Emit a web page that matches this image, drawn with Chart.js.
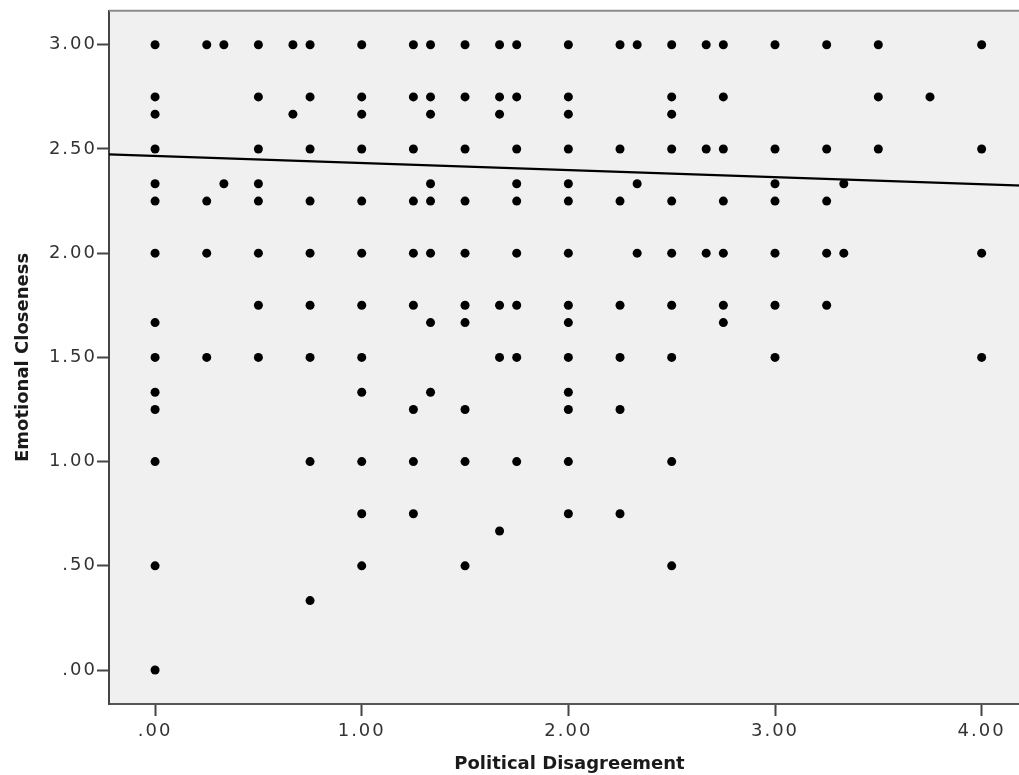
<!DOCTYPE html>
<html>
<head>
<meta charset="utf-8">
<script src="https://cdn.jsdelivr.net/npm/chart.js@4.4.1/dist/chart.umd.min.js"></script>
<style>
  html, body { margin: 0; padding: 0; background: #ffffff; overflow: hidden; width: 1019px; height: 775px; }
  #wrap { width: 1030px; height: 775px; }
</style>
</head>
<body>
<div id="wrap"><canvas id="c" width="1030" height="775"></canvas></div>
<script>
// ---- Data ----
const disagreement = [0, 0.25, 0.333, 0.5, 0.667, 0.75, 1, 1.25, 1.333, 1.5, 1.667, 1.75,
                      2, 2.25, 2.333, 2.5, 2.667, 2.75, 3, 3.25, 3.333, 3.5, 3.75, 4];
const closenessByDisagreement = [
  [3, 2.75, 2.667, 2.5, 2.333, 2.25, 2, 1.667, 1.5, 1.333, 1.25, 1, 0.5, 0],
  [3, 2.25, 2, 1.5],
  [3, 2.333],
  [3, 2.75, 2.5, 2.333, 2.25, 2, 1.75, 1.5],
  [3, 2.667],
  [3, 2.75, 2.5, 2.25, 2, 1.75, 1.5, 1, 0.333],
  [3, 2.75, 2.667, 2.5, 2.25, 2, 1.75, 1.5, 1.333, 1, 0.75, 0.5],
  [3, 2.75, 2.5, 2.25, 2, 1.75, 1.25, 1, 0.75],
  [3, 2.75, 2.667, 2.333, 2.25, 2, 1.667, 1.333],
  [3, 2.75, 2.5, 2.25, 2, 1.75, 1.667, 1.25, 1, 0.5],
  [3, 2.75, 2.667, 1.75, 1.5, 0.667],
  [3, 2.75, 2.5, 2.333, 2.25, 2, 1.75, 1.5, 1],
  [3, 2.75, 2.667, 2.5, 2.333, 2.25, 2, 1.75, 1.667, 1.5, 1.333, 1.25, 1, 0.75],
  [3, 2.5, 2.25, 1.75, 1.5, 1.25, 0.75],
  [3, 2.333, 2],
  [3, 2.75, 2.667, 2.5, 2.25, 2, 1.75, 1.5, 1, 0.5],
  [3, 2.5, 2],
  [3, 2.75, 2.5, 2.25, 2, 1.75, 1.667],
  [3, 2.5, 2.333, 2.25, 2, 1.75, 1.5],
  [3, 2.5, 2.25, 2, 1.75],
  [2.333, 2],
  [3, 2.75, 2.5],
  [2.75],
  [3, 2.5, 2, 1.5]
];
// Fit line endpoints (linear regression line across the plot)
const fitLineX = [-0.223, 4.234];
const fitLineY = [2.474, 2.323];
// Tick values and labels
const xTickValues = [0, 1, 2, 3, 4];
const xTickLabels = ['.00', '1.00', '2.00', '3.00', '4.00'];
const yTickValues = [0, 0.5, 1, 1.5, 2, 2.5, 3];
const yTickLabels = ['.00', '.50', '1.00', '1.50', '2.00', '2.50', '3.00'];
const xTitle = 'Political Disagreement';
const yTitle = 'Emotional Closeness';

// ---- Build data for the library ----
const scatterPoints = [];
disagreement.forEach((x, i) => {
  closenessByDisagreement[i].forEach(y => scatterPoints.push({ x: x, y: y }));
});
const fitPoints = fitLineX.map((x, i) => ({ x: x, y: fitLineY[i] }));

Chart.defaults.font.family = '"DejaVu Sans", sans-serif';
Chart.defaults.animation = false;

const plotBackground = {
  id: 'plotBackground',
  beforeDraw(chart) {
    const { ctx, chartArea: a } = chart;
    ctx.letterSpacing = '0px';
    ctx.save();
    ctx.fillStyle = '#f0f0f0';
    ctx.fillRect(a.left, a.top, a.right - a.left, a.bottom - a.top);
    ctx.restore();
  },
  afterDatasetsDraw(chart) {
    // tick labels (drawn after datasets, z=1) use a slightly wider spacing
    chart.ctx.letterSpacing = '2px';
  },
  afterDraw(chart) {
    const { ctx, chartArea: a } = chart;
    ctx.letterSpacing = '0px';
    ctx.save();
    ctx.strokeStyle = '#8c8c8c';
    ctx.lineWidth = 2;
    ctx.beginPath();
    ctx.moveTo(a.left, a.top);
    ctx.lineTo(a.right, a.top);
    ctx.stroke();
    ctx.restore();
  }
};

new Chart(document.getElementById('c'), {
  type: 'scatter',
  data: {
    datasets: [
      {
        label: 'Observed',
        data: scatterPoints,
        backgroundColor: '#000000',
        borderColor: '#000000',
        pointRadius: 4.5,
        pointHoverRadius: 4.5,
        borderWidth: 0,
        order: 2
      },
      {
        label: 'Fit',
        type: 'line',
        data: fitPoints,
        borderColor: '#000000',
        borderWidth: 2.2,
        pointRadius: 0,
        fill: false,
        order: 1
      }
    ]
  },
  options: {
    responsive: false,
    maintainAspectRatio: false,
    layout: { autoPadding: false, padding: { top: 10, right: 0, bottom: 0, left: 0 } },
    plugins: {
      legend: { display: false },
      tooltip: { enabled: false }
    },
    scales: {
      x: {
        type: 'linear',
        min: -0.223,
        max: 4.234,
        afterFit(s) { s.height = 71; },
        afterBuildTicks(s) { s.ticks = xTickValues.map(v => ({ value: v })); },
        ticks: {
          z: 1,
          padding: 5,
          color: '#333333',
          font: { size: 18 },
          maxRotation: 0,
          autoSkip: false,
          callback(v) { const i = xTickValues.indexOf(v); return i >= 0 ? xTickLabels[i] : ''; }
        },
        grid: { drawOnChartArea: false, drawTicks: true, tickLength: 12, tickWidth: 2, tickColor: '#444444' },
        border: { display: true, color: '#555555', width: 2 },
        title: { display: true, text: xTitle, color: '#1a1a1a', font: { size: 18, weight: 'bold' }, padding: { top: 0, bottom: 0 } }
      },
      y: {
        type: 'linear',
        min: -0.163,
        max: 3.163,
        afterFit(s) { s.width = 109; },
        afterBuildTicks(s) { s.ticks = yTickValues.map(v => ({ value: v })); },
        ticks: {
          z: 1,
          padding: 0,
          color: '#333333',
          font: { size: 18 },
          autoSkip: false,
          callback(v) { const i = yTickValues.indexOf(v); return i >= 0 ? yTickLabels[i] : ''; }
        },
        grid: { drawOnChartArea: false, drawTicks: true, tickLength: 12, tickWidth: 2, tickColor: '#444444' },
        border: { display: true, color: '#444444', width: 2 },
        title: { display: true, text: yTitle, color: '#1a1a1a', font: { size: 18, weight: 'bold' }, padding: { top: 12.5, bottom: 0 } }
      }
    }
  },
  plugins: [plotBackground]
});
</script>
</body>
</html>
